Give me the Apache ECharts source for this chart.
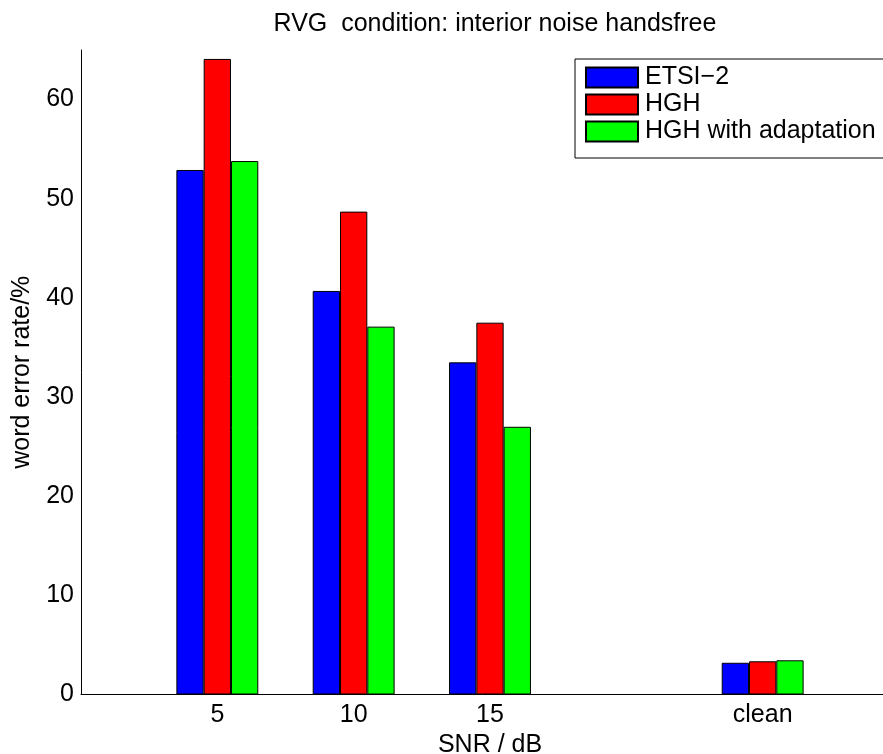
<!DOCTYPE html>
<html>
<head>
<meta charset="utf-8">
<script src="https://cdn.jsdelivr.net/npm/echarts@6/dist/echarts.min.js"></script>
<style>
  html, body { margin: 0; padding: 0; background: #fff; }
  #chart { width: 883px; height: 754px; }
</style>
</head>
<body>
<div id="chart"></div>
<script>
// categories on a 0..6 axis, groups sit at 1, 2, 3 and 5
const categories = ['', '5', '10', '15', '', 'clean', '']
const etsi = [null, 52.9, 40.7, 33.5, null, 3.2, null]
const hgh = [null, 64.1, 48.7, 37.5, null, 3.35, null]
const hghAdapt = [null, 53.8, 37.1, 27.0, null, 3.45, null]
const yTicks = [0, 10, 20, 30, 40, 50, 60]

const font = 'Liberation Sans, Arial, Helvetica, sans-serif'
const fs = 25

const chart = echarts.init(document.getElementById('chart'))

const barSeries = (name, data, color) => ({
  name,
  type: 'bar',
  data,
  barWidth: 27.3,
  barGap: '0%',
  itemStyle: { color, borderColor: '#000', borderWidth: 1 },
  emphasis: { disabled: true }
})

chart.setOption({
  animation: false,
  title: {
    text: 'RVG  condition: interior noise handsfree',
    left: 490,
    textAlign: 'center',
    top: 7,
    textStyle: { fontFamily: font, fontSize: fs, fontWeight: 'normal', color: '#000' }
  },
  legend: {
    orient: 'vertical',
    left: 575,
    top: 59,
    padding: [6, 60, 14, 10],
    icon: 'rect',
    itemWidth: 52,
    itemHeight: 20,
    itemGap: 2,
    backgroundColor: '#fff',
    borderColor: '#000',
    borderWidth: 1,
    borderRadius: 0,
    textStyle: { fontFamily: font, fontSize: fs, color: '#000', lineHeight: 20, padding: [0, 0, 0, 2] },
    data: ['ETSI\u22122', 'HGH', 'HGH with adaptation']
  },
  grid: { left: 81, width: 818, top: 50, bottom: 59.5, containLabel: false, outerBoundsMode: 'none' },
  xAxis: {
    type: 'category',
    data: categories,
    boundaryGap: false,
    name: 'SNR / dB',
    nameLocation: 'middle',
    nameGap: 34,
    nameTextStyle: { fontFamily: font, fontSize: fs, color: '#000' },
    axisLine: { lineStyle: { color: '#000', width: 1 } },
    axisTick: {
      inside: true,
      length: 8,
      lineStyle: { color: '#000' },
      interval: (i, v) => v !== ''
    },
    axisLabel: {
      fontFamily: font,
      fontSize: fs,
      color: '#000',
      margin: 8,
      interval: 0
    },
    splitLine: { show: false }
  },
  yAxis: {
    type: 'value',
    min: 0,
    max: 65,
    interval: 10,
    name: 'word error rate/%',
    nameLocation: 'middle',
    nameGap: 46,
    nameTextStyle: { fontFamily: font, fontSize: fs, color: '#000' },
    axisLine: { show: true, lineStyle: { color: '#000', width: 1 } },
    axisTick: { inside: true, length: 8, lineStyle: { color: '#000' } },
    axisLabel: {
      fontFamily: font,
      fontSize: fs,
      color: '#000',
      margin: 7,
      showMaxLabel: false,
      formatter: v => (yTicks.includes(v) ? String(v) : '')
    },
    splitLine: { show: false }
  },
  series: [
    barSeries('ETSI\u22122', etsi, '#0000ff'),
    barSeries('HGH', hgh, '#ff0000'),
    barSeries('HGH with adaptation', hghAdapt, '#00ff00')
  ]
})
</script>
</body>
</html>
